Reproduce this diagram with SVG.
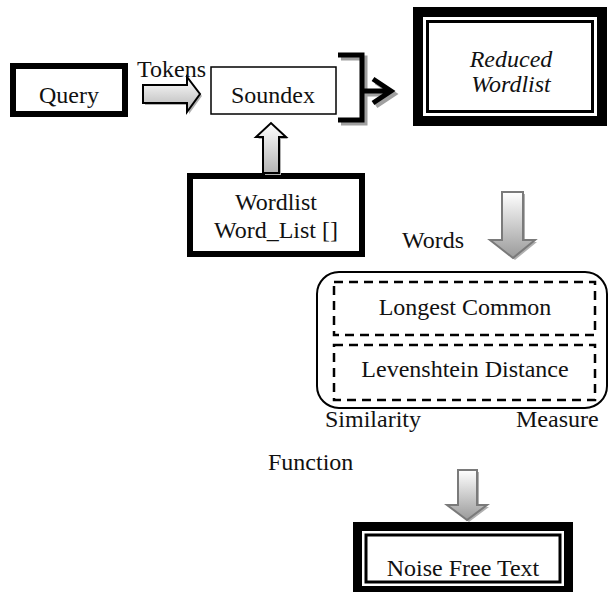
<svg xmlns="http://www.w3.org/2000/svg" width="610" height="592" viewBox="0 0 610 592">
  <defs>
    <linearGradient id="gradV" x1="0" y1="0" x2="0" y2="1">
      <stop offset="0" stop-color="#ffffff"/>
      <stop offset="1" stop-color="#b4b4b4"/>
    </linearGradient>
    <linearGradient id="gradDown" x1="0" y1="0" x2="0" y2="1">
      <stop offset="0" stop-color="#ffffff"/>
      <stop offset="1" stop-color="#9a9a9a"/>
    </linearGradient>
  </defs>
  <style>
    text { font-family: "Liberation Serif", "Times New Roman", serif; font-size: 24px; fill: #111; }
    .mid { text-anchor: middle; }
    .thick { fill: #fff; stroke: #000; stroke-width: 6; }
    .thin { fill: #fff; stroke: #000; stroke-width: 1.5; }
    .blk { fill: url(#gradV); stroke: #000; stroke-width: 2; stroke-linejoin: miter; }
    .blkDown { fill: url(#gradDown); stroke: #7a7a7a; stroke-width: 2; }
    .shadow { fill: #b0b0b0; stroke: none; }
    .brk { fill: none; stroke: #000; stroke-width: 5; }
    .brkShadow { fill: none; stroke: #a0a0a0; stroke-width: 5; }
    .dash { fill: none; stroke: #000; stroke-width: 2.5; stroke-dasharray: 9 6; }
  </style>

  <!-- nodes -->
  <g id="query">
    <rect class="thick" x="13" y="66" width="112" height="48"/>
    <text class="mid" x="69" y="103">Query</text>
  </g>

  <g id="soundex">
    <rect class="thin" x="211" y="67" width="125" height="47"/>
    <text class="mid" x="273" y="103">Soundex</text>
  </g>

  <g id="reduced-wordlist">
    <rect x="413" y="7" width="194" height="119" fill="#000"/>
    <rect x="423" y="17" width="174" height="99" fill="#fff"/>
    <rect x="427.5" y="21.5" width="165" height="90" fill="none" stroke="#000" stroke-width="3"/>
    <text class="mid" x="511" y="67" font-style="italic">Reduced</text>
    <text class="mid" x="511" y="92" font-style="italic">Wordlist</text>
  </g>

  <g id="wordlist">
    <rect class="thick" x="190" y="176" width="172" height="78"/>
    <text class="mid" x="276" y="210">Wordlist</text>
    <text class="mid" x="276" y="238">Word_List []</text>
  </g>

  <g id="similarity">
    <rect x="317" y="272" width="290" height="136" rx="22" ry="22" fill="#fff" stroke="#000" stroke-width="2"/>
    <rect class="dash" x="334" y="282" width="261" height="53"/>
    <rect class="dash" x="334" y="345" width="261" height="55"/>
    <text class="mid" x="465" y="315">Longest Common</text>
    <text class="mid" x="465" y="377">Levenshtein Distance</text>
    <text x="325" y="427">Similarity</text>
    <text x="516" y="427">Measure</text>
    <text x="268" y="470">Function</text>
  </g>

  <g id="noise-free-text">
    <rect x="353" y="522" width="220" height="70" fill="#000"/>
    <rect x="362" y="531" width="202" height="55" fill="#fff"/>
    <rect x="366" y="535" width="194" height="47" fill="none" stroke="#000" stroke-width="3"/>
    <text class="mid" x="463" y="576">Noise Free Text</text>
  </g>

  <!-- connectors -->
  <g id="connectors">
    <!-- Query to Soundex -->
    <polygon class="shadow" points="145,87 189,87 189,79 202,96 189,114 189,105 145,105"/>
    <polygon class="blk" points="143,85 187,85 187,77 200,94 187,112 187,103 143,103"/>
    <text x="137" y="77">Tokens</text>

    <!-- Wordlist up to Soundex -->
    <polygon class="shadow" points="265,175 265,139 258,139 273,125 288,139 281,139 281,175"/>
    <polygon class="blk" points="263,173 263,137 256,137 271,123 286,137 279,137 279,173"/>

    <!-- bracket and arrow to Reduced Wordlist -->
    <path class="brkShadow" d="M341,58 H365 V123 H341"/>
    <path class="brk" d="M338,55 H362 V120 H338"/>
    <path class="brkShadow" d="M366,94 H392 M376,82 L394,94 L376,106"/>
    <path class="brk" d="M363,91 H389 M373,79 L391,91 L373,103"/>

    <!-- Reduced Wordlist down to Similarity -->
    <polygon class="shadow" points="504,194 525,194 525,242 537,242 515,260 492,242 504,242"/>
    <polygon class="blkDown" points="502,192 523,192 523,240 535,240 513,258 490,240 502,240"/>
    <text x="402" y="248">Words</text>

    <!-- Similarity down to Noise Free Text -->
    <polygon class="shadow" points="460,472 479,472 479,507 489,507 469,522 449,507 460,507"/>
    <polygon class="blkDown" points="458,470 477,470 477,505 487,505 467,520 447,505 458,505"/>
  </g>
</svg>
